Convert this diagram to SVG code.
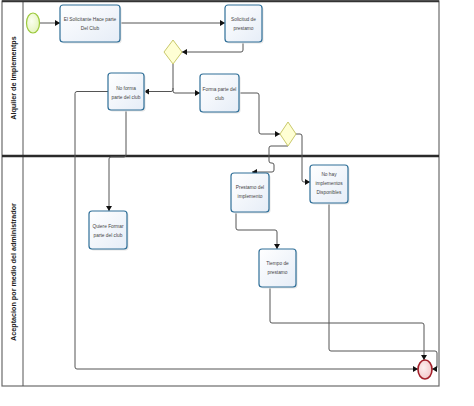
<svg xmlns="http://www.w3.org/2000/svg" width="474" height="406" viewBox="0 0 474 406">
<defs>
  <linearGradient id="taskFill" x1="0" y1="0" x2="1" y2="1">
    <stop offset="0" stop-color="#ffffff"/>
    <stop offset="1" stop-color="#e6edf7"/>
  </linearGradient>
  <radialGradient id="startFill" cx="0.4" cy="0.4" r="0.7">
    <stop offset="0" stop-color="#fbfff0"/>
    <stop offset="1" stop-color="#e2f3b8"/>
  </radialGradient>
  <radialGradient id="endFill" cx="0.4" cy="0.4" r="0.7">
    <stop offset="0" stop-color="#fdf0f0"/>
    <stop offset="1" stop-color="#f2c4c6"/>
  </radialGradient>
  <marker id="arr" markerWidth="6" markerHeight="6" refX="5" refY="3" orient="auto" markerUnits="userSpaceOnUse">
    <path d="M0,0 L5,3 L0,6 Z" fill="#111"/>
  </marker>
</defs>
<style>
  .pool { fill: #ffffff; stroke: #6b6b6b; stroke-width: 1.2; }
  .lane { fill: none; stroke: #555; stroke-width: 1; }
  .sep { stroke: #2a2a2a; stroke-width: 2.5; }
  .lanelabel { font-family: "Liberation Sans", Arial, sans-serif; font-size: 7.2px; font-weight: bold; fill: #222; }
  .task rect { fill: url(#taskFill); stroke: #2f6f98; stroke-width: 1.2; }
  .task rect.shadow { fill: #e6e6e6; stroke: none; }
  .task text { font-family: "Liberation Sans", Arial, sans-serif; font-size: 4.8px; fill: #444; text-anchor: middle; }
  .gw { fill: #ffffd4; stroke: #c9c86a; stroke-width: 1; }
  .conn path { fill: none; stroke: #555; stroke-width: 1; stroke-linejoin: round; }
  .arrow { marker-end: url(#arr); }
</style>

<!-- Pool and lanes -->
<g id="pool">
  <rect class="pool" x="2" y="1" width="437" height="385"/>
  <line x1="23" y1="1" x2="23" y2="386" class="lane"/>
  <line x1="2" y1="1.2" x2="439" y2="1.2" stroke="#333" stroke-width="2"/>
  <line x1="2" y1="156" x2="439" y2="156" class="sep"/>
  <text class="lanelabel" transform="translate(13,78) rotate(-90)" text-anchor="middle" dominant-baseline="central">Alquiler de Implementps</text>
  <text class="lanelabel" transform="translate(13,272) rotate(-90)" text-anchor="middle" dominant-baseline="central">Aceptacion por medio del administrador</text>
</g>

<!-- Connectors -->
<g id="connectors" class="conn">
  <path class="arrow" d="M39.5,23 L60,23"/>
  <path class="arrow" d="M120,23 L225,23"/>
  <path class="arrow" d="M243,42 L243,50 Q243,52 241,52 L182,52"/>
  <path class="arrow" d="M173,64 L173,89.5 Q173,91.5 171,91.5 L144,91.5"/>
  <path class="arrow" d="M173,88 L173,91 Q173,93 175,93 L200,93"/>
  <path class="arrow" d="M239,93 L257,93 Q259,93 259,95 L259,132 Q259,134 261,134 L280,134"/>
  <path class="arrow" d="M296,134 L300,134 Q302,134 302,136 L302,180 Q302,182 304,182 L310,182"/>
  <path class="arrow" d="M288,146 L271,146 Q269,146 269,148 L269,161 Q269,163 271,163 L272,163 Q274,163 274,165 L274,170 Q274,172 272,172 L252,172"/>
  <path class="arrow" d="M126,110 L126,155 Q126,157 124,157 L111,157 Q109,157 109,159 L109,211"/>
  <path class="arrow" d="M108,91.5 L77,91.5 Q75,91.5 75,93.5 L75,367 Q75,369 77,369 L418,369"/>
  <path class="arrow" d="M236,212 L236,228 Q236,230 238,230 L275,230 Q277,230 277,232 L277,249"/>
  <path class="arrow" d="M270,287 L270,321 Q270,323 272,323 L422,323 Q424,323 424,325 L424,360"/>
  <path class="arrow" d="M329,203 L329,349 Q329,351 331,351 L435,351 Q437,351 437,353 L437,367 Q437,369 435,369 L432,369"/>
</g>

<!-- Start event -->
<g id="start">
  <ellipse cx="33" cy="23" rx="6.5" ry="10" fill="url(#startFill)" stroke="#9cc93c" stroke-width="1.2"/>
</g>

<!-- Tasks -->
<g id="task-solicitante" class="task">
  <rect class="shadow" x="61.5" y="6.5" width="60" height="37" rx="3"/>
  <rect x="60" y="5" width="60" height="37" rx="3"/>
  <text x="90" y="21">El Solicitante Hace parte</text>
  <text x="90" y="30">Del Club</text>
</g>
<g id="task-solicitud" class="task">
  <rect class="shadow" x="226.5" y="6.5" width="37" height="37" rx="3"/>
  <rect x="225" y="5" width="37" height="37" rx="3"/>
  <text x="243.5" y="21">Solicitud de</text>
  <text x="243.5" y="30">prestamo</text>
</g>
<g id="gateway1">
  <polygon class="gw" points="173,40 182,52 173,64 164,52"/>
</g>
<g id="task-noforma" class="task">
  <rect class="shadow" x="109.5" y="74.5" width="36" height="37" rx="3"/>
  <rect x="108" y="73" width="36" height="37" rx="3"/>
  <text x="126" y="90">No forma</text>
  <text x="126" y="99">parte del club</text>
</g>
<g id="task-forma" class="task">
  <rect class="shadow" x="201.5" y="75.5" width="39" height="38" rx="3"/>
  <rect x="200" y="74" width="39" height="38" rx="3"/>
  <text x="219.5" y="91">Forma parte del</text>
  <text x="219.5" y="100">club</text>
</g>
<g id="gateway2">
  <polygon class="gw" points="288,122 296,134 288,146 280,134"/>
</g>
<g id="task-quiere" class="task">
  <rect class="shadow" x="90.5" y="212.5" width="38" height="38" rx="3"/>
  <rect x="89" y="211" width="38" height="38" rx="3"/>
  <text x="108" y="228">Quiere Formar</text>
  <text x="108" y="237">parte del club</text>
</g>
<g id="task-prestamo" class="task">
  <rect class="shadow" x="232.5" y="174.5" width="38" height="39" rx="3"/>
  <rect x="231" y="173" width="38" height="39" rx="3"/>
  <text x="250" y="189">Prestamo del</text>
  <text x="250" y="198">implemento</text>
</g>
<g id="task-nohay" class="task">
  <rect class="shadow" x="311.5" y="166.5" width="38" height="38" rx="3"/>
  <rect x="310" y="165" width="38" height="38" rx="3"/>
  <text x="329" y="176">No hay</text>
  <text x="329" y="185">implementos</text>
  <text x="329" y="194">Disponibles</text>
</g>
<g id="task-tiempo" class="task">
  <rect class="shadow" x="260.5" y="250.5" width="37" height="38" rx="3"/>
  <rect x="259" y="249" width="37" height="38" rx="3"/>
  <text x="277.5" y="265">Tiempo de</text>
  <text x="277.5" y="274">prestamo</text>
</g>

<!-- End event -->
<g id="end">
  <ellipse cx="425" cy="369.5" rx="7" ry="9.5" fill="url(#endFill)" stroke="#a3202a" stroke-width="1.6"/>
</g>
</svg>
